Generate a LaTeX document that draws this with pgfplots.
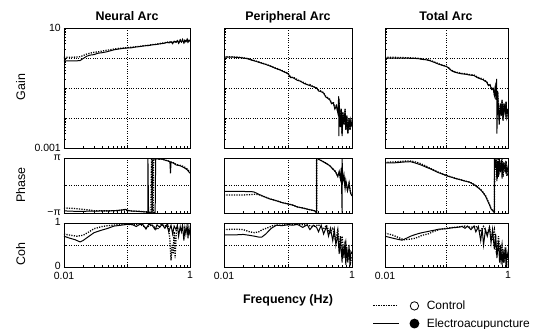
\documentclass[border=0pt]{standalone}
\usepackage{fontspec}
\setmainfont{Liberation Sans}
\usepackage{pgfplots}
\pgfplotsset{compat=1.18}
\pgfplotsset{
  mybase/.style={scale only axis, anchor=north west, xmin=0.01, xmax=1,
    xtick={0.01,0.1,1}, xticklabels={}, grid=major,
    major grid style={dotted, line width=0.55pt, black},
    tick align=inside, tick pos=left,
    major tick length=3bp, minor tick length=2.5bp,
    every tick/.style={black, line width=0.5pt},
    axis line style={line width=0.9pt},
    tick label style={font=\fontsize{10.5}{11}\selectfont, inner sep=1bp},
    xticklabel style={yshift=-3.5bp},
    yticklabel style={xshift=-2bp},
    /pgf/number format/assume math mode=true},
  mygain/.style={mybase, ymin=0.001, ymax=10, ytick={0.001,0.01,0.1,1,10}, yticklabels={}, height=120bp},
  myphase/.style={mybase, ymin=-3.14159, ymax=3.14159, ytick={-3.14159,0,3.14159}, yticklabels={}, height=55bp},
  mycoh/.style={mybase, ymin=0, ymax=1, ytick={0,0.5,1}, yticklabels={}, height=44bp},
  ea/.style={black, line width=1pt, mark=none},
  ctrl/.style={black, dash pattern=on 1.2pt off 1.3pt, line width=1.3pt, mark=none},
}
\begin{document}
\begin{tikzpicture}
\path[use as bounding box] (0,0) rectangle (540bp,-329bp);
% ---------------- Neural Arc ----------------
\begin{axis}[xmode=log, ymode=log, mygain, at={(64bp,-28bp)}, width=126bp, yticklabels={0.001,,,,10}]
\addplot[ctrl] coordinates {(0.01,1.05)(0.012,1.05)(0.015,1.07)(0.018,1.1)(0.02,1.2)(0.023,1.35)(0.026,1.45)(0.03,1.55)(0.035,1.6)(0.04,1.7)(0.047,1.8)(0.055,1.9)(0.064,2.0)(0.075,2.1)(0.088,2.15)(0.1,2.2)(0.12,2.3)(0.14,2.4)(0.16,2.45)(0.19,2.6)(0.22,2.65)(0.25,2.8)(0.28,2.85)(0.31,2.95)(0.35,3.1)(0.39,3.2)(0.43,3.4)(0.47,3.3)(0.5,3.6)(0.53,3.1)(0.56,3.7)(0.6,3.3)(0.63,3.9)(0.66,3.2)(0.7,4.0)(0.73,3.5)(0.76,4.1)(0.8,3.3)(0.83,4.0)(0.86,3.6)(0.9,4.2)(0.93,3.5)(0.96,4.0)(1.0,3.7)};
\addplot[ea] coordinates {(0.01,0.8)(0.012,0.8)(0.015,0.8)(0.018,0.82)(0.02,0.95)(0.023,1.15)(0.026,1.25)(0.03,1.3)(0.035,1.45)(0.04,1.5)(0.047,1.6)(0.055,1.75)(0.064,1.9)(0.075,2.0)(0.088,2.1)(0.1,2.15)(0.12,2.2)(0.14,2.35)(0.16,2.4)(0.19,2.55)(0.22,2.6)(0.25,2.75)(0.28,2.8)(0.31,2.9)(0.35,3.0)(0.39,3.1)(0.43,3.3)(0.47,3.2)(0.5,3.5)(0.53,3.0)(0.56,3.6)(0.6,3.3)(0.63,3.8)(0.66,3.1)(0.7,3.9)(0.73,3.4)(0.76,4.0)(0.8,3.2)(0.83,3.9)(0.86,3.5)(0.9,4.1)(0.93,3.4)(0.96,3.9)(1.0,3.6)};
\end{axis}
\begin{axis}[xmode=log, myphase, at={(64bp,-158bp)}, width=126bp, yticklabels={−π,,π}]
\addplot[ctrl] coordinates {(0.01,-2.57)(0.013,-2.6)(0.016,-2.65)(0.02,-2.72)(0.025,-2.8)(0.03,-2.88)(0.04,-2.9)(0.05,-2.9)(0.07,-2.88)(0.09,-2.8)(0.1,-2.85)(0.12,-2.92)(0.15,-2.95)(0.18,-2.98)(0.2,-3.0)(0.22,-3.05)(0.24,-3.1)(0.245,3.1)(0.25,-3.1)(0.255,3.1)(0.26,-3.1)(0.265,3.1)(0.275,3.05)(0.3,3.05)(0.33,3.0)(0.36,3.05)(0.4,2.9)(0.45,2.8)(0.5,2.7)(0.55,2.6)(0.6,2.4)(0.65,2.35)(0.7,2.3)(0.8,2.15)(0.9,1.9)(1.0,1.5)};
\addplot[ea] coordinates {(0.01,-2.9)(0.015,-2.95)(0.02,-2.95)(0.03,-2.92)(0.05,-2.9)(0.07,-2.85)(0.085,-2.78)(0.095,-2.72)(0.105,-2.85)(0.12,-2.92)(0.15,-2.95)(0.18,-3.0)(0.2,-3.0)(0.215,-3.1)(0.215,3.1)(0.22,-3.1)(0.24,-3.05)(0.26,-3.05)(0.28,-3.1)(0.285,3.1)(0.3,3.05)(0.33,3.0)(0.36,3.02)(0.4,2.9)(0.45,2.8)(0.48,2.7)(0.49,1.4)(0.5,2.65)(0.55,2.55)(0.6,2.35)(0.65,2.3)(0.7,2.25)(0.8,2.05)(0.9,1.8)(1.0,1.4)};
\end{axis}
\begin{axis}[xmode=log, mycoh, at={(64bp,-223bp)}, width=126bp, yticklabels={0,,1}, xticklabels={0.01,,1}, yticklabel style={yshift=1.5bp}]
\addplot[ctrl] coordinates {(0.01,0.75)(0.013,0.72)(0.016,0.7)(0.02,0.72)(0.025,0.8)(0.03,0.87)(0.04,0.92)(0.05,0.94)(0.07,0.96)(0.1,0.97)(0.13,0.96)(0.16,0.97)(0.2,0.9)(0.25,0.96)(0.3,0.85)(0.35,0.97)(0.4,0.93)(0.45,0.97)(0.48,0.6)(0.5,0.15)(0.52,0.5)(0.54,0.3)(0.56,0.8)(0.58,0.2)(0.61,0.9)(0.7,0.85)(0.8,0.9)(0.9,0.85)(1.0,0.8)};
\addplot[ea] coordinates {(0.01,0.70)(0.012,0.66)(0.015,0.62)(0.018,0.57)(0.02,0.6)(0.025,0.7)(0.03,0.78)(0.038,0.83)(0.05,0.88)(0.062,0.93)(0.08,0.95)(0.1,0.97)(0.12,0.97)(0.14,0.92)(0.16,0.97)(0.18,0.96)(0.2,0.86)(0.22,0.97)(0.25,0.95)(0.28,0.85)(0.3,0.96)(0.33,0.9)(0.36,0.97)(0.4,0.88)(0.43,0.96)(0.46,0.8)(0.5,0.95)(0.53,0.75)(0.56,0.93)(0.6,0.85)(0.63,0.95)(0.66,0.7)(0.7,0.92)(0.73,0.8)(0.76,0.95)(0.8,0.6)(0.83,0.9)(0.86,0.75)(0.9,0.95)(0.93,0.65)(0.96,0.9)(1.0,0.72)};
\end{axis}
% ---------------- Peripheral Arc ----------------
\begin{axis}[xmode=log, ymode=log, mygain, at={(224bp,-28bp)}, width=128bp]
\addplot[ctrl] coordinates {(0.01,1.1)(0.013,1.1)(0.016,1.07)(0.02,1.02)(0.023,0.97)(0.027,0.87)(0.03,0.82)(0.035,0.74)(0.04,0.67)(0.046,0.61)(0.055,0.53)(0.064,0.46)(0.075,0.41)(0.088,0.35)(0.1,0.31)(0.11,0.23)(0.12,0.23)(0.14,0.19)(0.155,0.17)(0.18,0.15)(0.2,0.13)(0.22,0.13)(0.25,0.11)(0.28,0.1)(0.3,0.085)(0.33,0.078)(0.36,0.07)(0.39,0.052)(0.42,0.047)(0.45,0.042)(0.48,0.031)(0.51,0.034)(0.54,0.022)(0.57,0.026)(0.6,0.016)(0.63,0.03)(0.66,0.006)(0.68,0.02)(0.7,0.003)(0.72,0.016)(0.75,0.006)(0.78,0.02)(0.8,0.004)(0.83,0.012)(0.86,0.003)(0.9,0.01)(0.93,0.004)(0.96,0.008)(1.0,0.005)};
\addplot[ea] coordinates {(0.01,1.07)(0.013,1.07)(0.016,1.05)(0.02,1.0)(0.023,0.95)(0.027,0.85)(0.03,0.8)(0.035,0.72)(0.04,0.66)(0.046,0.6)(0.055,0.52)(0.064,0.45)(0.075,0.4)(0.088,0.34)(0.1,0.30)(0.11,0.22)(0.12,0.22)(0.14,0.18)(0.155,0.17)(0.18,0.14)(0.2,0.13)(0.22,0.12)(0.25,0.11)(0.28,0.1)(0.3,0.08)(0.33,0.075)(0.36,0.068)(0.39,0.05)(0.42,0.045)(0.45,0.04)(0.48,0.03)(0.51,0.032)(0.54,0.02)(0.57,0.025)(0.6,0.015)(0.62,0.053)(0.625,0.0025)(0.63,0.03)(0.66,0.005)(0.68,0.02)(0.7,0.0025)(0.72,0.015)(0.75,0.006)(0.78,0.02)(0.8,0.004)(0.83,0.012)(0.86,0.003)(0.9,0.009)(0.93,0.004)(0.96,0.008)(1.0,0.005)};
\end{axis}
\begin{axis}[xmode=log, myphase, at={(224bp,-158bp)}, width=128bp]
\addplot[ctrl] coordinates {(0.01,-1.08)(0.015,-1.08)(0.02,-1.08)(0.025,-1.05)(0.03,-1.0)(0.035,-1.05)(0.04,-1.2)(0.045,-1.35)(0.052,-1.52)(0.06,-1.65)(0.07,-1.8)(0.08,-1.95)(0.1,-2.1)(0.12,-2.25)(0.14,-2.45)(0.17,-2.57)(0.2,-2.7)(0.23,-2.8)(0.26,-2.9)(0.275,-3.05)(0.28,-3.1)(0.28,3.1)(0.3,3.0)(0.33,2.85)(0.36,2.7)(0.4,2.5)(0.45,2.25)(0.5,1.9)(0.55,1.6)(0.6,1.1)(0.63,1.5)(0.66,0.8)(0.7,1.9)(0.72,0.4)(0.75,1.0)(0.78,-0.2)(0.8,0.5)(0.85,-0.5)(0.9,0.3)(0.95,-0.8)(1.0,-1.1)};
\addplot[ea] coordinates {(0.01,-0.66)(0.015,-0.66)(0.02,-0.68)(0.025,-0.7)(0.029,-0.72)(0.035,-1.0)(0.04,-1.2)(0.045,-1.35)(0.052,-1.54)(0.06,-1.65)(0.07,-1.8)(0.08,-1.95)(0.1,-2.11)(0.12,-2.25)(0.14,-2.45)(0.17,-2.57)(0.2,-2.7)(0.23,-2.8)(0.26,-2.88)(0.275,-3.05)(0.28,-3.12)(0.28,3.12)(0.3,3.0)(0.33,2.85)(0.36,2.7)(0.4,2.5)(0.45,2.26)(0.5,1.9)(0.55,1.6)(0.6,1.0)(0.63,1.6)(0.66,0.74)(0.68,2.0)(0.7,-3.1)(0.7,3.1)(0.72,0.5)(0.75,1.2)(0.78,-0.3)(0.8,0.6)(0.85,-0.6)(0.9,0.2)(0.95,-0.9)(1.0,-1.2)};
\end{axis}
\begin{axis}[xmode=log, mycoh, at={(224bp,-223bp)}, width=128bp, xticklabels={0.01,,1}]
\addplot[ctrl] coordinates {(0.01,0.85)(0.015,0.86)(0.02,0.85)(0.025,0.8)(0.03,0.78)(0.035,0.8)(0.04,0.85)(0.05,0.9)(0.06,0.95)(0.1,0.96)(0.15,0.97)(0.2,0.95)(0.25,0.92)(0.3,0.96)(0.35,0.85)(0.4,0.95)(0.45,0.75)(0.5,0.9)(0.55,0.6)(0.6,0.85)(0.65,0.4)(0.7,0.7)(0.75,0.3)(0.8,0.55)(0.85,0.15)(0.9,0.4)(0.95,0.1)(1.0,0.25)};
\addplot[ea] coordinates {(0.01,0.73)(0.015,0.73)(0.02,0.74)(0.025,0.72)(0.03,0.7)(0.035,0.68)(0.039,0.68)(0.045,0.75)(0.05,0.82)(0.055,0.88)(0.066,0.95)(0.08,0.94)(0.1,0.96)(0.12,0.95)(0.14,0.97)(0.17,0.9)(0.2,0.96)(0.22,0.85)(0.25,0.95)(0.28,0.9)(0.3,0.8)(0.33,0.95)(0.36,0.75)(0.4,0.92)(0.43,0.7)(0.46,0.88)(0.5,0.6)(0.53,0.85)(0.56,0.5)(0.6,0.75)(0.63,0.3)(0.66,0.7)(0.7,0.1)(0.72,0.5)(0.75,0.2)(0.78,0.6)(0.8,0.05)(0.83,0.45)(0.86,0.1)(0.9,0.5)(0.93,0.05)(0.96,0.35)(1.0,0.3)};
\end{axis}
% ---------------- Total Arc ----------------
\begin{axis}[xmode=log, ymode=log, mygain, at={(385bp,-28bp)}, width=123bp]
\addplot[ctrl] coordinates {(0.01,1.05)(0.015,1.05)(0.02,1.03)(0.025,1.02)(0.03,1.0)(0.035,0.98)(0.04,0.93)(0.047,0.9)(0.055,0.83)(0.065,0.72)(0.075,0.64)(0.088,0.57)(0.1,0.53)(0.11,0.46)(0.12,0.39)(0.135,0.35)(0.15,0.33)(0.17,0.31)(0.2,0.3)(0.24,0.28)(0.28,0.27)(0.32,0.23)(0.36,0.21)(0.39,0.2)(0.42,0.18)(0.45,0.16)(0.48,0.13)(0.51,0.13)(0.54,0.09)(0.57,0.1)(0.6,0.06)(0.62,0.1)(0.64,0.04)(0.68,0.07)(0.7,0.02)(0.72,0.008)(0.75,0.03)(0.78,0.012)(0.8,0.04)(0.83,0.009)(0.86,0.03)(0.9,0.015)(0.93,0.035)(0.96,0.012)(1.0,0.02)};
\addplot[ea] coordinates {(0.01,1.0)(0.015,1.0)(0.02,1.0)(0.025,0.98)(0.03,0.97)(0.035,0.95)(0.04,0.9)(0.047,0.87)(0.055,0.8)(0.065,0.7)(0.075,0.62)(0.088,0.56)(0.1,0.52)(0.11,0.45)(0.12,0.38)(0.135,0.34)(0.15,0.32)(0.17,0.3)(0.2,0.29)(0.24,0.27)(0.28,0.26)(0.32,0.22)(0.36,0.2)(0.39,0.19)(0.42,0.17)(0.45,0.16)(0.48,0.12)(0.51,0.13)(0.54,0.09)(0.57,0.1)(0.6,0.06)(0.62,0.1)(0.64,0.04)(0.655,0.2)(0.66,0.003)(0.68,0.08)(0.7,0.02)(0.72,0.006)(0.75,0.03)(0.78,0.012)(0.8,0.04)(0.83,0.008)(0.86,0.03)(0.9,0.015)(0.93,0.035)(0.96,0.012)(1.0,0.02)};
\end{axis}
\begin{axis}[xmode=log, myphase, at={(385bp,-158bp)}, width=123bp]
\addplot[ctrl] coordinates {(0.01,2.65)(0.015,2.7)(0.02,2.78)(0.026,2.8)(0.03,2.72)(0.035,2.6)(0.04,2.42)(0.047,2.2)(0.055,1.95)(0.065,1.7)(0.075,1.5)(0.088,1.3)(0.1,1.15)(0.12,0.97)(0.14,0.82)(0.17,0.66)(0.2,0.52)(0.24,0.38)(0.28,0.12)(0.32,-0.18)(0.36,-0.45)(0.39,-0.75)(0.43,-1.15)(0.47,-1.75)(0.5,-2.15)(0.53,-2.65)(0.57,-2.9)(0.6,-3.1)(0.61,3.1)(0.63,1.8)(0.65,2.9)(0.67,0.8)(0.69,3.0)(0.71,1.2)(0.74,2.8)(0.77,1.6)(0.8,3.0)(0.83,1.0)(0.86,2.6)(0.9,1.5)(0.93,2.8)(0.96,1.1)(1.0,1.8)};
\addplot[ea] coordinates {(0.01,2.57)(0.015,2.6)(0.02,2.68)(0.026,2.72)(0.03,2.6)(0.035,2.45)(0.04,2.3)(0.047,2.08)(0.055,1.9)(0.065,1.65)(0.075,1.45)(0.088,1.28)(0.1,1.12)(0.12,0.95)(0.14,0.8)(0.17,0.65)(0.2,0.5)(0.24,0.37)(0.28,0.1)(0.32,-0.2)(0.36,-0.5)(0.39,-0.78)(0.43,-1.2)(0.47,-1.8)(0.5,-2.2)(0.53,-2.68)(0.57,-2.9)(0.6,-3.1)(0.6,3.1)(0.62,2.0)(0.64,3.0)(0.66,0.5)(0.68,2.8)(0.7,1.0)(0.72,3.1)(0.75,1.5)(0.78,2.9)(0.8,0.8)(0.83,2.7)(0.86,1.8)(0.9,2.5)(0.93,1.3)(0.96,2.2)(1.0,1.6)};
\end{axis}
\begin{axis}[xmode=log, mycoh, at={(385bp,-223bp)}, width=123bp, xticklabels={0.01,,1},
  legend style={at={(-0.1,-0.73)}, anchor=north west, draw=none, fill=none,
    font=\fontsize{12}{13}\selectfont, row sep=4.5bp, inner sep=0pt, column sep=6bp,
    nodes={inner sep=1.5bp}},
  legend cell align=left]
\addplot[ctrl, legend image code/.code={\draw[black, dash pattern=on 1.2pt off 1.3pt, line width=1.1pt] (0bp,0bp) -- (24bp,0bp); \draw[black, solid, line width=0.8pt, fill=white] (41bp,0bp) circle (4.2bp);}] coordinates {(0.01,0.77)(0.013,0.73)(0.016,0.68)(0.02,0.62)(0.025,0.63)(0.03,0.65)(0.035,0.68)(0.04,0.72)(0.05,0.75)(0.06,0.8)(0.075,0.85)(0.1,0.88)(0.15,0.91)(0.2,0.93)(0.25,0.9)(0.3,0.93)(0.35,0.8)(0.4,0.92)(0.45,0.75)(0.5,0.9)(0.55,0.6)(0.6,0.85)(0.65,0.3)(0.7,0.7)(0.75,0.2)(0.8,0.5)(0.85,0.1)(0.9,0.4)(0.95,0.05)(1.0,0.3)};
\addlegendentry{Control}
\addplot[ea, legend image code/.code={\draw[black, line width=1.1pt] (0bp,0bp) -- (26bp,0bp); \fill[black] (41bp,0bp) circle (4.4bp);}] coordinates {(0.01,0.70)(0.013,0.66)(0.016,0.63)(0.019,0.61)(0.022,0.65)(0.026,0.7)(0.03,0.73)(0.035,0.76)(0.04,0.78)(0.047,0.80)(0.055,0.82)(0.065,0.84)(0.075,0.86)(0.1,0.87)(0.12,0.89)(0.15,0.9)(0.18,0.92)(0.2,0.88)(0.22,0.93)(0.25,0.85)(0.28,0.93)(0.3,0.8)(0.33,0.92)(0.36,0.6)(0.38,0.88)(0.4,0.5)(0.43,0.85)(0.46,0.7)(0.5,0.9)(0.53,0.55)(0.56,0.85)(0.6,0.4)(0.63,0.75)(0.66,0.2)(0.7,0.6)(0.73,0.1)(0.76,0.5)(0.8,0.05)(0.83,0.4)(0.86,0.1)(0.9,0.45)(0.93,0.02)(0.96,0.35)(1.0,0.2)};
\addlegendentry{Electroacupuncture}
\end{axis}
% ---------------- labels ----------------
\node[anchor=base, font=\bfseries\fontsize{12.5}{14}\selectfont] at (127bp,-20.5bp) {Neural Arc};
\node[anchor=base, font=\bfseries\fontsize{12.5}{14}\selectfont] at (288bp,-20.5bp) {Peripheral Arc};
\node[anchor=base, font=\bfseries\fontsize{12.5}{14}\selectfont] at (446bp,-20.5bp) {Total Arc};
\node[anchor=base, rotate=90, font=\fontsize{12.5}{14}\selectfont] at (25bp,-87bp) {Gain};
\node[anchor=base, rotate=90, font=\fontsize{12.5}{14}\selectfont] at (25bp,-185bp) {Phase};
\node[anchor=base, rotate=90, font=\fontsize{12.5}{14}\selectfont] at (25bp,-254bp) {Coh};
\node[anchor=base, font=\bfseries\fontsize{12.5}{14}\selectfont] at (288bp,-303bp) {Frequency (Hz)};
\end{tikzpicture}
\end{document}
